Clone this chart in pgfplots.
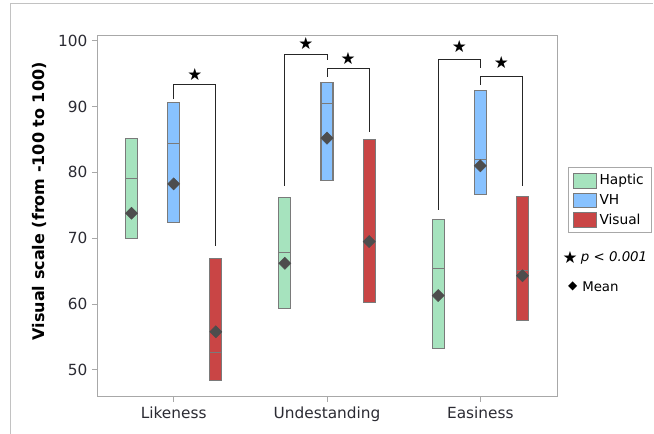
\documentclass[border=0pt]{standalone}
\usepackage{fontspec}
\setmainfont{DejaVu Sans}
\usepackage{pgfplots}
\pgfplotsset{compat=1.18}

\definecolor{hapticc}{HTML}{A6E3BE}
\definecolor{vhc}{HTML}{88C2FF}
\definecolor{visualc}{HTML}{C94545}
\definecolor{edgec}{HTML}{7A7A7A}
\definecolor{meanc}{HTML}{4D4D4D}
\definecolor{framec}{HTML}{A8A8A8}
\definecolor{labelc}{HTML}{2B2B33}

% one box: left edge, right edge, lower quartile, median, upper quartile, colour
\newcommand{\qbox}[6]{%
  \addplot[draw=edgec, line width=0.8pt, fill=#6, forget plot]
    coordinates {(#1,#3)(#2,#3)(#2,#5)(#1,#5)} -- cycle;
  \addplot[draw=edgec, line width=0.8pt, forget plot]
    coordinates {(#1,#4)(#2,#4)};}

\newcommand{\sig}[2]{\node[font=\fontsize{12.5}{14}\selectfont, inner sep=0pt] at (axis cs:#1,#2) {★};}

\begin{document}
\begin{tikzpicture}[x=1pt,y=1pt]
\path[use as bounding box] (0,0) rectangle (490.5,325.5);
% outer frame (top and left)
\draw[framec!70, line width=0.75pt] (7.9,0) -- (7.9,323.2) -- (489.8,323.2);

\begin{axis}[
  at={(72.75pt,27.75pt)}, anchor=south west,
  width=345pt, height=270.75pt, scale only axis,
  xmin=0.5, xmax=3.5, ymin=45.9, ymax=100.7,
  xtick={1,2,3}, xticklabels={Likeness,Undestanding,Easiness},
  ytick={50,60,70,80,90,100},
  tick align=outside, tick pos=left,
  major tick length=3.75pt,
  axis line style={framec, line width=0.75pt},
  tick style={framec, line width=0.75pt},
  ticklabel style={font=\fontsize{11.5}{13}\selectfont, text=labelc},
  /pgf/number format/assume math mode=true,
  ylabel={\textbf{Visual scale (from -100 to 100)}},
  ylabel style={font=\fontsize{12}{14}\selectfont, text=black,
    at={(axis description cs:-0.124,0.542)}, anchor=center},
  legend style={at={(axis description cs:1.023,0.636)}, anchor=north west,
    draw=framec, line width=0.75pt, font=\fontsize{10.3}{12}\selectfont,
    row sep=1.5pt, inner xsep=4pt, inner ysep=3pt},
  legend cell align=left,
  legend image code/.code={\draw[#1, line width=0.6pt] (0pt,-5.5pt) rectangle (17pt,5.5pt);},
  clip=false,
]
\addlegendimage{draw=edgec, fill=hapticc}
\addlegendentry{Haptic\hspace{5pt}}
\addlegendimage{draw=edgec, fill=vhc}
\addlegendentry{VH}
\addlegendimage{draw=edgec, fill=visualc}
\addlegendentry{Visual}

% Likeness
\qbox{0.686}{0.764}{70.0}{79.1}{85.2}{hapticc}
\qbox{0.961}{1.039}{72.4}{84.4}{90.65}{vhc}
\qbox{1.236}{1.314}{48.4}{52.7}{66.9}{visualc}
% Undestanding
\qbox{1.686}{1.764}{59.4}{67.9}{76.2}{hapticc}
\qbox{1.961}{2.039}{78.8}{90.5}{93.6}{vhc}
\qbox{2.236}{2.314}{60.2}{69.5}{85.0}{visualc}
% Easiness
\qbox{2.686}{2.764}{53.2}{65.4}{72.8}{hapticc}
\qbox{2.961}{3.039}{76.7}{81.9}{92.4}{vhc}
\qbox{3.236}{3.314}{57.5}{65.1}{76.4}{visualc}

% means
\addplot[only marks, mark=square*, mark size=3.2pt, color=meanc,
  mark options={rotate=45}, forget plot] coordinates {
  (0.725,73.8) (1.000,78.25) (1.275,55.8)
  (1.725,66.2) (2.000,85.2) (2.275,69.5)
  (2.725,61.3) (3.000,81.0) (3.275,64.3)};

% significance brackets
\addplot[black!85, line width=0.75pt, forget plot] coordinates {(1.0,91.1)(1.0,93.3)(1.275,93.3)(1.275,68.75)};
\addplot[black!85, line width=0.75pt, forget plot] coordinates {(1.725,78.0)(1.725,97.9)(2.0,97.9)(2.0,97.0)};
\addplot[black!85, line width=0.75pt, forget plot] coordinates {(2.0,94.5)(2.0,95.8)(2.275,95.8)(2.275,86.1)};
\addplot[black!85, line width=0.75pt, forget plot] coordinates {(2.725,74.3)(2.725,97.1)(3.0,97.1)(3.0,95.8)};
\addplot[black!85, line width=0.75pt, forget plot] coordinates {(3.0,93.3)(3.0,94.5)(3.275,94.5)(3.275,78.0)};

\sig{1.1375}{94.9}
\sig{1.8625}{99.6}
\sig{2.1375}{97.3}
\sig{2.8625}{99.1}
\sig{3.1375}{96.6}
\end{axis}

% key for the significance mark and the mean
\node[font=\fontsize{12.5}{14}\selectfont, inner sep=0pt] at (427.5,132) {★};
\node[font=\fontsize{10}{12}\selectfont\itshape, anchor=west, inner sep=0pt] at (435.5,132) {p < 0.001};
\node[font=\fontsize{9}{12}\selectfont, inner sep=0pt, text=black] at (429.5,110.5) {◆};
\node[font=\fontsize{10}{12}\selectfont, anchor=west, inner sep=0pt] at (436.5,110.5) {Mean};
\end{tikzpicture}
\end{document}
